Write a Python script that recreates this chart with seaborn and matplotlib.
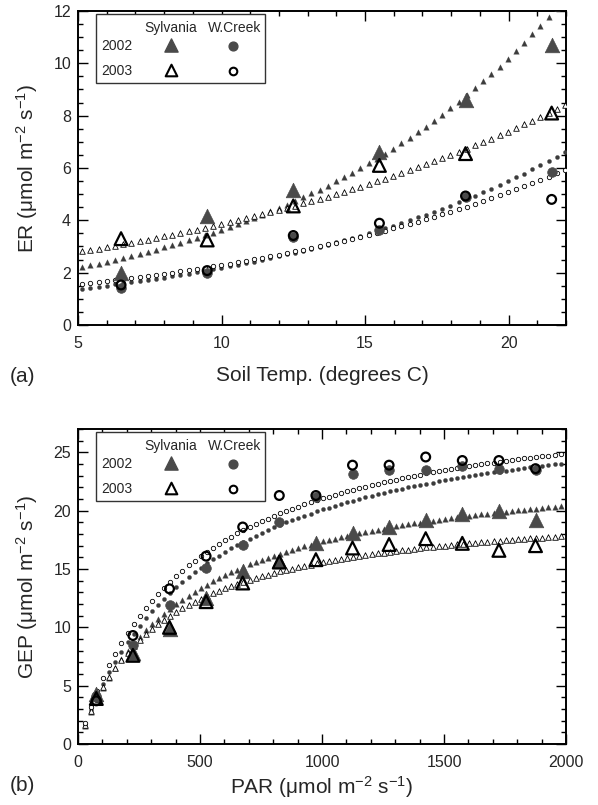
import numpy as np
import pandas as pd
import matplotlib
matplotlib.use("Agg")
import matplotlib.pyplot as plt
import seaborn as sns
from matplotlib.patches import Rectangle
from matplotlib.ticker import MultipleLocator

# ---------------- data ----------------
soil_temp = [6.5, 9.5, 12.5, 15.5, 18.5, 21.5]
er_syl_2002 = [2.0, 4.15, 5.15, 6.6, 8.6, 10.7]
er_syl_2003 = [3.3, 3.25, 4.55, 6.1, 6.55, 8.1]
er_wc_2002 = [1.4, 2.0, 3.38, 3.63, 4.9, 5.86]
er_wc_2003 = [1.53, 2.08, 3.42, 3.89, 4.93, 4.8]

par = [75, 225, 375, 525, 675, 825, 975, 1125, 1275, 1425, 1575, 1725, 1875]
gep_syl_2002 = [4.3, 7.8, 9.9, 12.5, 14.8, 15.7, 17.2, 18.1, 18.6, 19.2, 19.7, 20.0, 19.2]
gep_syl_2003 = [3.9, 7.6, 10.0, 12.2, 13.8, 15.6, 15.8, 16.8, 17.1, 17.6, 17.2, 16.6, 17.0]
gep_wc_2002 = [4.1, 8.5, 11.9, 15.1, 17.1, 19.0, 21.2, 23.1, 23.5, 23.5, 23.8, 23.6, 23.5]
gep_wc_2003 = [3.7, 9.3, 13.3, 16.1, 18.6, 21.3, 21.3, 23.9, 23.9, 24.6, 24.3, 24.3, 23.6]

# fitted model parameters
# ER = a * exp(b * T)
er_fit_syl_2002 = (1.30, 0.103)
er_fit_syl_2003 = (2.01, 0.0652)
er_fit_wc_2002 = (0.866, 0.0925)
er_fit_wc_2003 = (1.04, 0.0793)
# GEP = Pmax * PAR / (K + PAR)
gep_fit_syl_2002 = (24.8, 430.0)
gep_fit_syl_2003 = (20.83, 338.0)
gep_fit_wc_2002 = (30.1, 499.0)
gep_fit_wc_2003 = (30.5, 450.0)

year_labels = ["2002", "2003"]
site_labels = ["Sylvania", "W.Creek"]

# ---------------- style ----------------
sns.set_theme(style="ticks")
plt.rcParams["font.family"] = ["Liberation Sans", "DejaVu Sans"]
plt.rcParams["mathtext.fontset"] = "custom"
plt.rcParams["mathtext.rm"] = "Liberation Sans"
plt.rcParams["mathtext.default"] = "regular"
plt.rcParams["axes.unicode_minus"] = False

GREY = "#4a4a4a"
DARK = "#3c3c3c"

fig = plt.figure(figsize=(5.98, 8.05), dpi=100)
W, H = 598, 805
ax1 = fig.add_axes([78 / W, 1 - 325 / H, 488 / W, 314 / H])
ax2 = fig.add_axes([78 / W, 1 - 744 / H, 488 / W, 315 / H])


def big(ax, x, y, marker, filled, s):
    if filled:
        sns.scatterplot(x=x, y=y, ax=ax, marker=marker, s=s, color=GREY,
                        edgecolor=GREY, linewidth=0.5, zorder=6, legend=False)
    else:
        sns.scatterplot(x=x, y=y, ax=ax, marker=marker, s=s, color="black",
                        edgecolor="black", linewidth=1.6, zorder=7, legend=False)
        ax.collections[-1].set_facecolor("none")


def small(ax, x, y, marker, filled, s):
    if filled:
        sns.scatterplot(x=x, y=y, ax=ax, marker=marker, s=s, color=DARK,
                        edgecolor=DARK, linewidth=0.2, zorder=3, legend=False)
    else:
        sns.scatterplot(x=x, y=y, ax=ax, marker=marker, s=s, color="white",
                        edgecolor="black", linewidth=0.6, zorder=4, legend=False)


# ---------------- panel (a) ----------------
t_grid = np.arange(5.15, 22.0, 0.285)
for (a, b), mk, filled, s in [(er_fit_syl_2002, "^", True, 16),
                              (er_fit_syl_2003, "^", False, 16),
                              (er_fit_wc_2002, "o", True, 9),
                              (er_fit_wc_2003, "o", False, 10)]:
    small(ax1, t_grid, a * np.exp(b * t_grid), mk, filled, s)

big(ax1, soil_temp, er_syl_2002, "^", True, 110)
big(ax1, soil_temp, er_wc_2002, "o", True, 48)
big(ax1, soil_temp, er_syl_2003, "^", False, 85)
big(ax1, soil_temp, er_wc_2003, "o", False, 40)

ax1.set_xlim(5, 22)
ax1.set_ylim(0, 12)
ax1.xaxis.set_major_locator(MultipleLocator(5))
ax1.xaxis.set_minor_locator(MultipleLocator(1))
ax1.yaxis.set_major_locator(MultipleLocator(2))
ax1.yaxis.set_minor_locator(MultipleLocator(0.5))

# ---------------- panel (b) ----------------
p_grid = np.arange(28, 2001, 25.0)
for (pm, k), mk, filled, s in [(gep_fit_syl_2002, "^", True, 16),
                               (gep_fit_syl_2003, "^", False, 16),
                               (gep_fit_wc_2002, "o", True, 9),
                               (gep_fit_wc_2003, "o", False, 10)]:
    small(ax2, p_grid, pm * p_grid / (k + p_grid), mk, filled, s)

big(ax2, par, gep_syl_2002, "^", True, 110)
big(ax2, par, gep_wc_2002, "o", True, 48)
big(ax2, par, gep_syl_2003, "^", False, 85)
big(ax2, par, gep_wc_2003, "o", False, 40)

ax2.set_xlim(0, 2000)
ax2.set_ylim(0, 27)
ax2.xaxis.set_major_locator(MultipleLocator(500))
ax2.xaxis.set_minor_locator(MultipleLocator(100))
ax2.yaxis.set_major_locator(MultipleLocator(5))
ax2.yaxis.set_minor_locator(MultipleLocator(1))

for ax in (ax1, ax2):
    for sp in ax.spines.values():
        sp.set_visible(True)
        sp.set_linewidth(1.4)
        sp.set_color("black")
    ax.tick_params(which="both", direction="in", top=True, right=True,
                   bottom=True, left=True, color="black", width=1.0)
    ax.tick_params(which="major", length=7)
    ax.tick_params(which="minor", length=3.5)
    ax.tick_params(axis="x", which="major", pad=8, labelsize=11.5)
    ax.tick_params(axis="y", which="major", pad=5, labelsize=11.5)
    ax.set_facecolor("white")

ax1.set_xlabel("Soil Temp. (degrees C)", fontsize=15)
ax1.set_ylabel("ER (μmol m$^{-2}$ s$^{-1}$)", fontsize=15)
ax2.set_xlabel("PAR (μmol m$^{-2}$ s$^{-1}$)", fontsize=15)
ax2.set_ylabel("GEP (μmol m$^{-2}$ s$^{-1}$)", fontsize=15)
ax1.xaxis.set_label_coords(0.5, -0.13)
ax2.xaxis.set_label_coords(0.5, -0.094)
ax1.yaxis.set_label_coords(-0.077, 0.5)
ax2.yaxis.set_label_coords(-0.077, 0.5)

fig.text(22 / W, 1 - 377 / H, "(a)", fontsize=15, ha="center", va="center")
fig.text(22 / W, 1 - 785 / H, "(b)", fontsize=15, ha="center", va="center")


# ---------------- legend tables ----------------
def legend_table(ax, h_px):
    tr = ax.transAxes
    fy = lambda off: 1 - off / h_px
    x0, x1 = 18 / 488, 187 / 488
    ax.add_patch(Rectangle((x0, fy(72)), x1 - x0, fy(3) - fy(72), transform=tr,
                           facecolor="white", edgecolor="#333333", lw=1.0,
                           zorder=10, clip_on=False))
    xs_syl, xs_wc_txt, xs_wc = 0.1906, 0.3217, 0.3176
    ax.text(xs_syl, fy(17), site_labels[0], transform=tr, ha="center",
            va="center", fontsize=10, zorder=11)
    ax.text(xs_wc_txt, fy(17), site_labels[1], transform=tr, ha="center",
            va="center", fontsize=10, zorder=11)
    for yoff, lab in zip((35, 60), year_labels):
        ax.text(0.0471, fy(yoff), lab, transform=tr, ha="left", va="center",
                fontsize=10, zorder=11)
    ax.scatter([xs_syl], [fy(34)], marker="^", s=90, color=GREY, edgecolor=GREY,
               transform=tr, zorder=12, clip_on=False)
    ax.scatter([xs_wc], [fy(35)], marker="o", s=40, color=GREY, edgecolor=GREY,
               transform=tr, zorder=12, clip_on=False)
    ax.scatter([xs_syl], [fy(59)], marker="^", s=70, facecolor="white",
               edgecolor="black", linewidth=1.5, transform=tr, zorder=12,
               clip_on=False)
    ax.scatter([xs_wc], [fy(60)], marker="o", s=30, facecolor="white",
               edgecolor="black", linewidth=1.5, transform=tr, zorder=12,
               clip_on=False)


legend_table(ax1, 314)
legend_table(ax2, 315)

fig.savefig("out.png", dpi=100, facecolor="white")
